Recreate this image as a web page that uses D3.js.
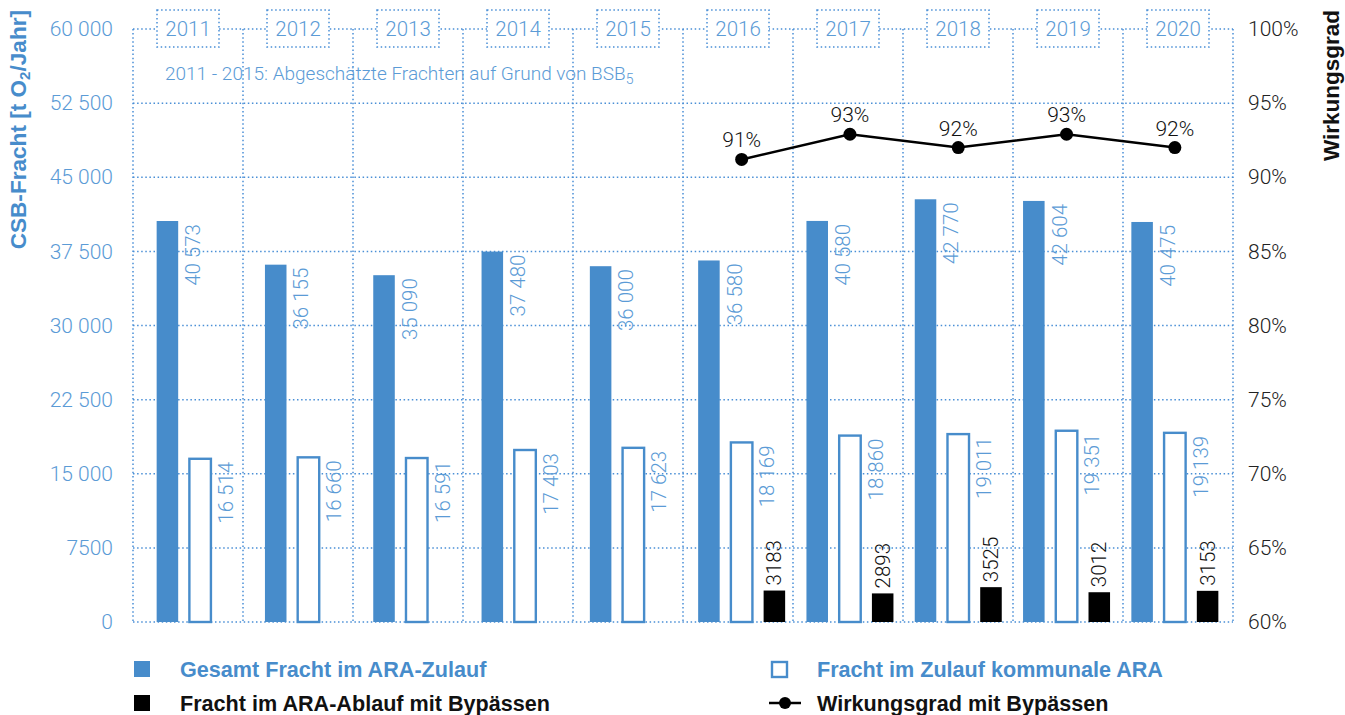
<!DOCTYPE html>
<html>
<head>
<meta charset="utf-8">
<script src="https://cdn.jsdelivr.net/npm/d3@7"></script>
<style>
  body { margin: 0; background: #fff; }
  svg { display: block; }
  .light { font-family: "Roboto", "Liberation Sans", sans-serif; font-weight: 300; }
  .bold { font-family: "Liberation Sans", Arial, sans-serif; font-weight: 700; }
</style>
</head>
<body>
<svg id="chart" width="1345" height="715"></svg>
<script>
// --- data ---------------------------------------------------------------
const years = [2011, 2012, 2013, 2014, 2015, 2016, 2017, 2018, 2019, 2020];
const gesamtFracht   = [40573, 36155, 35090, 37480, 36000, 36580, 40580, 42770, 42604, 40475];
const kommunalFracht = [16514, 16660, 16591, 17403, 17623, 18169, 18860, 19011, 19351, 19139];
const ablaufFracht   = [null, null, null, null, null, 3183, 2893, 3525, 3012, 3153];
const wirkungsgrad   = [null, null, null, null, null, 0.912, 0.929, 0.920, 0.929, 0.920];
const loadTicks = [0, 7500, 15000, 22500, 30000, 37500, 45000, 52500, 60000];
const pctTicks  = [0.60, 0.65, 0.70, 0.75, 0.80, 0.85, 0.90, 0.95, 1.00];
const seriesKeys = ["gesamt", "kommunal", "ablauf"];
const legendItems = [
  { key: "gesamt",   label: "Gesamt Fracht im ARA-Zulauf" },
  { key: "kommunal", label: "Fracht im Zulauf kommunale ARA" },
  { key: "ablauf",   label: "Fracht im ARA-Ablauf mit Bypässen" },
  { key: "line",     label: "Wirkungsgrad mit Bypässen" }
];

// --- styles -------------------------------------------------------------
const BLUE = "#478ccb";
const LABEL_BLUE = "#5b9bd6";
const GRID = "#4a8fd6";
const DOTS = "1.5 2.6";

const svg = d3.select("#chart");

const plot = { left: 133, right: 1233, top: 29, bottom: 622 };

// Grid bands (gridlines, year boxes) and bar groups
const gx = d3.scaleBand().domain(years).range([plot.left, plot.right]);
const bx = d3.scaleBand().domain(years).range([146, 1229]);
const x1 = d3.scaleBand().domain(seriesKeys).range([-43.5, 43.5]).paddingInner(0.342);
const y  = d3.scaleLinear().domain([0, 60000]).range([plot.bottom, plot.top]);
const y2 = d3.scaleLinear().domain([0.6, 1.0]).range([plot.bottom, plot.top]);

const cx = yr => bx(yr) + bx.bandwidth() / 2;

const fmtLoad = v => v >= 10000 ? d3.format(",")(v).replace(",", " ") : String(v);
const fmtPct = d3.format(".0%");

const rows = years.map((yr, i) => ({
  year: yr,
  gesamt: gesamtFracht[i],
  kommunal: kommunalFracht[i],
  ablauf: ablaufFracht[i],
  eff: wirkungsgrad[i]
}));

// --- grid ---------------------------------------------------------------
const grid = svg.append("g")
  .attr("stroke", GRID).attr("stroke-width", 1.5).attr("stroke-dasharray", DOTS).attr("fill", "none");

grid.selectAll("line.h").data(loadTicks).join("line")
  .attr("class", "h")
  .attr("x1", plot.left).attr("x2", plot.right)
  .attr("y1", d => y(d)).attr("y2", d => y(d));

const vEdges = years.map(yr => gx(yr)).concat([plot.right]);
grid.selectAll("line.v").data(vEdges).join("line")
  .attr("class", "v")
  .attr("x1", d => d).attr("x2", d => d)
  .attr("y1", plot.top).attr("y2", plot.bottom);

// --- axes ---------------------------------------------------------------
const leftAxis = svg.append("g")
  .attr("transform", `translate(${plot.left},0)`)
  .call(d3.axisLeft(y).tickValues(loadTicks).tickFormat(fmtLoad).tickSize(0).tickPadding(20));
leftAxis.select(".domain").remove();
leftAxis.selectAll("text")
  .attr("class", "light")
  .attr("font-size", 21).attr("fill", LABEL_BLUE);

const rightAxis = svg.append("g")
  .attr("transform", `translate(${plot.right},0)`)
  .call(d3.axisRight(y2).tickValues(pctTicks).tickFormat(fmtPct).tickSize(0).tickPadding(15));
rightAxis.select(".domain").remove();
rightAxis.selectAll("text")
  .attr("class", "light")
  .attr("font-size", 21).attr("fill", "#222");

// Axis titles
const leftTitle = svg.append("text")
  .attr("class", "bold")
  .attr("transform", "translate(26,10) rotate(-90)")
  .attr("text-anchor", "end")
  .attr("font-size", 22.6).attr("fill", BLUE);
leftTitle.append("tspan").text("CSB-Fracht [t O");
leftTitle.append("tspan").attr("font-size", 15).attr("dy", 4).text("2");
leftTitle.append("tspan").attr("dy", -4).text("/Jahr]");

svg.append("text")
  .attr("class", "bold")
  .attr("transform", "translate(1339,10) rotate(-90)")
  .attr("text-anchor", "end")
  .attr("font-size", 22.5).attr("fill", "#111")
  .text("Wirkungsgrad");

// --- bars ---------------------------------------------------------------
const groups = svg.append("g").selectAll("g").data(rows).join("g")
  .attr("transform", d => `translate(${cx(d.year)},0)`);

const bw = x1.bandwidth();

// total inflow (filled)
groups.append("rect")
  .attr("x", x1("gesamt"))
  .attr("y", d => y(d.gesamt))
  .attr("width", bw)
  .attr("height", d => y(0) - y(d.gesamt))
  .attr("fill", BLUE);

// municipal inflow (outlined)
groups.append("rect")
  .attr("x", x1("kommunal"))
  .attr("y", d => y(d.kommunal))
  .attr("width", bw)
  .attr("height", d => y(0) - y(d.kommunal))
  .attr("fill", "#fff").attr("stroke", BLUE).attr("stroke-width", 2.4);

// effluent incl. bypasses (black)
groups.filter(d => d.ablauf != null).append("rect")
  .attr("x", x1("ablauf"))
  .attr("y", d => y(d.ablauf))
  .attr("width", bw)
  .attr("height", d => y(0) - y(d.ablauf))
  .attr("fill", "#000");

// value labels, rotated
groups.append("text")
  .attr("class", "light")
  .attr("transform", d => `translate(${x1("gesamt") + bw + 22},${y(d.gesamt) + 3}) rotate(-90)`)
  .attr("text-anchor", "end")
  .attr("font-size", 20.5).attr("fill", LABEL_BLUE)
  .text(d => fmtLoad(d.gesamt));

groups.append("text")
  .attr("class", "light")
  .attr("transform", d => `translate(${x1("kommunal") + bw + 22},${y(d.kommunal) + 3}) rotate(-90)`)
  .attr("text-anchor", "end")
  .attr("font-size", 20.5).attr("fill", LABEL_BLUE)
  .text(d => fmtLoad(d.kommunal));

groups.filter(d => d.ablauf != null).append("text")
  .attr("class", "light")
  .attr("transform", d => `translate(${x1("ablauf") + bw / 2 + 7},${y(d.ablauf) - 5}) rotate(-90)`)
  .attr("text-anchor", "start")
  .attr("font-size", 20.5).attr("fill", "#111")
  .text(d => fmtLoad(d.ablauf));

// --- efficiency line ----------------------------------------------------
const effRows = rows.filter(d => d.eff != null);
const line = d3.line().x(d => cx(d.year)).y(d => y2(d.eff));

svg.append("path")
  .datum(effRows)
  .attr("d", line)
  .attr("fill", "none").attr("stroke", "#000").attr("stroke-width", 2.5);

svg.append("g").selectAll("circle").data(effRows).join("circle")
  .attr("cx", d => cx(d.year)).attr("cy", d => y2(d.eff)).attr("r", 6.5)
  .attr("fill", "#000");

svg.append("g").selectAll("text").data(effRows).join("text")
  .attr("class", "light")
  .attr("x", d => cx(d.year)).attr("y", d => y2(d.eff) - 12)
  .attr("text-anchor", "middle")
  .attr("font-size", 21).attr("fill", "#111")
  .text(d => fmtPct(d.eff));

// --- year boxes ---------------------------------------------------------
const boxes = svg.append("g").selectAll("g").data(years).join("g")
  .attr("transform", d => `translate(${gx(d) + gx.bandwidth() / 2},0)`);
boxes.append("rect")
  .attr("x", -31).attr("y", 10).attr("width", 62).attr("height", 37)
  .attr("fill", "#fff").attr("stroke", GRID).attr("stroke-width", 1.5).attr("stroke-dasharray", DOTS);
boxes.append("text")
  .attr("class", "light")
  .attr("y", 29).attr("dy", "0.36em")
  .attr("text-anchor", "middle")
  .attr("font-size", 20.5).attr("fill", LABEL_BLUE)
  .text(d => d);

// --- note ---------------------------------------------------------------
const note = svg.append("text")
  .attr("class", "light")
  .attr("x", 165).attr("y", 80)
  .attr("font-size", 19).attr("fill", LABEL_BLUE);
note.append("tspan").text("2011 - 2015: Abgeschätzte Frachten auf Grund von BSB");
note.append("tspan").attr("font-size", 14).attr("dy", 4).text("5");

// --- legend -------------------------------------------------------------
const legendPos = {
  gesamt:   { x: 134, y: 669, color: BLUE },
  kommunal: { x: 771, y: 669, color: BLUE },
  ablauf:   { x: 134, y: 703, color: "#111" },
  line:     { x: 771, y: 703, color: "#111" }
};
const legend = svg.append("g").selectAll("g").data(legendItems).join("g")
  .attr("transform", d => `translate(${legendPos[d.key].x},${legendPos[d.key].y})`);

legend.each(function (d) {
  const g = d3.select(this);
  if (d.key === "gesamt") {
    g.append("rect").attr("x", 0).attr("y", -8).attr("width", 16).attr("height", 16).attr("fill", BLUE);
  } else if (d.key === "kommunal") {
    g.append("rect").attr("x", 1).attr("y", -7).attr("width", 15).attr("height", 15)
      .attr("fill", "#fff").attr("stroke", BLUE).attr("stroke-width", 2.4);
  } else if (d.key === "ablauf") {
    g.append("rect").attr("x", 0).attr("y", -8).attr("width", 16).attr("height", 16).attr("fill", "#000");
  } else {
    g.append("line").attr("x1", -2).attr("x2", 30).attr("y1", 0).attr("y2", 0)
      .attr("stroke", "#000").attr("stroke-width", 2.5);
    g.append("circle").attr("cx", 14).attr("cy", 0).attr("r", 6).attr("fill", "#000");
  }
  g.append("text")
    .attr("class", "bold")
    .attr("x", 46).attr("dy", "0.36em")
    .attr("font-size", 21.6).attr("fill", legendPos[d.key].color)
    .text(d.label);
});
</script>
</body>
</html>
